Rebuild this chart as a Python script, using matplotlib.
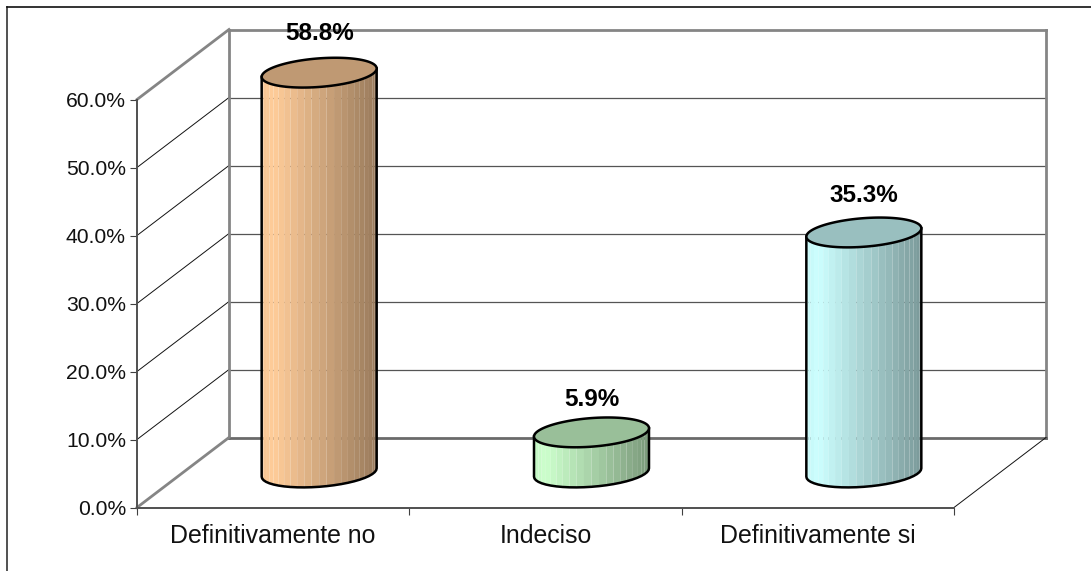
import numpy as np
import matplotlib
matplotlib.use("Agg")
import matplotlib.pyplot as plt
from matplotlib.lines import Line2D
from matplotlib.patches import Polygon
from matplotlib.colors import to_rgb
from matplotlib.ticker import FuncFormatter

plt.rcParams['font.family'] = ['Liberation Sans', 'DejaVu Sans']

categories = ["Definitivamente no", "Indeciso", "Definitivamente si"]
values = [58.8, 5.9, 35.3]
value_labels = ["58.8%", "5.9%", "35.3%"]
colors = ["#FFCC99", "#CCFFCC", "#CCFFFF"]
y_ticks = [0, 10, 20, 30, 40, 50, 60]

W, H = 1091, 571
L, R, T, B = 137.0, 954.0, 99.5, 507.5   # front plane, pixels
DX, DY = 92.0, 70.0                      # depth offset, pixels
fig = plt.figure(figsize=(W / 100, H / 100), dpi=100, facecolor="white")
# outer frame: only its left and top edges fall inside the picture
fig.add_artist(Line2D([6.5 / W, 6.5 / W], [0, 1 - 7 / H], transform=fig.transFigure,
                      color="#333333", lw=1.2, solid_capstyle="projecting"))
fig.add_artist(Line2D([6.5 / W, 1], [1 - 7 / H, 1 - 7 / H], transform=fig.transFigure,
                      color="#111111", lw=1.2, solid_capstyle="projecting"))
ax = fig.add_axes([L / W, 1 - B / H, (R - L) / W, (B - T) / H])
ax.set_xlim(0, 3)
ax.set_ylim(0, 60)
ax.patch.set_visible(False)

px = 3 / (R - L)
py = 60 / (B - T)
dx, dy = DX * px, DY * py

GRID = "#555555"
WALL = "#858585"
# walls
for v in y_ticks[1:-1]:
    ax.plot([dx, 3 + dx], [v + dy, v + dy], color=GRID, lw=0.9, clip_on=False, zorder=1)
    ax.plot([0, dx], [v, v + dy], color="#111111", lw=0.7, clip_on=False, zorder=1)
ax.plot([dx, 3 + dx], [60 + dy, 60 + dy], color=WALL, lw=2.0, clip_on=False, zorder=1)
ax.plot([dx, dx], [dy, 60 + dy], color=WALL, lw=2.0, clip_on=False, zorder=1)
ax.plot([3 + dx, 3 + dx], [dy, 60 + dy], color=WALL, lw=2.0, clip_on=False, zorder=1)
ax.plot([dx, 3 + dx], [dy, dy], color="#6a6a6a", lw=2.0, clip_on=False, zorder=1)
ax.plot([0, dx], [0, dy], color=WALL, lw=2.0, clip_on=False, zorder=1)
ax.plot([0, dx], [60, 60 + dy], color=WALL, lw=2.0, clip_on=False, zorder=1)
ax.plot([3, 3 + dx], [0, dy], color="#111111", lw=0.7, clip_on=False, zorder=1)

# cylinders
A, TILT, BB = 57.5, 4.2, 14.3
label_gap = [39.5, 33, 36.5]
def shade(u):
    return np.interp(u, [0, 0.1, 1], [0.96, 1.0, 0.6])
for i, (v, c) in enumerate(zip(values, colors)):
    cx = i + 0.5 + dx / 2
    base = dy / 2
    rgb = np.array(to_rgb(c))
    t = np.linspace(np.pi, 2 * np.pi, 25)
    xs = cx + A * px * np.cos(t)
    ys = (TILT * np.cos(t) + BB * np.sin(t)) * py
    for j in range(len(t) - 1):
        u = (xs[j] + xs[j + 1] - 2 * xs[0]) / 2 / (xs[-1] - xs[0])
        col = rgb * shade(u)
        ax.add_patch(Polygon([(xs[j], base + ys[j]), (xs[j + 1], base + ys[j + 1]),
                              (xs[j + 1], base + v + ys[j + 1]), (xs[j], base + v + ys[j])],
                             closed=True, fc=col, ec="none", lw=0, clip_on=False, zorder=3))
    ax.plot(np.r_[xs[0], xs, xs[-1]], np.r_[base + v + ys[0], base + ys, base + v + ys[-1]],
            color="black", lw=1.8, clip_on=False, zorder=4, solid_joinstyle="round")
    tt = np.linspace(0, 2 * np.pi, 121)
    ax.add_patch(Polygon(np.c_[cx + A * px * np.cos(tt),
                               base + v + (TILT * np.cos(tt) + BB * np.sin(tt)) * py],
                         closed=True, fc=rgb * 0.75, ec="black", lw=1.8, clip_on=False, zorder=5))
    ax.text(cx, base + v + label_gap[i] * py, value_labels[i], ha="center", va="center",
            fontsize=17.5, fontweight="bold", color="black", clip_on=False, zorder=6)

# axes
for s in ("top", "right"):
    ax.spines[s].set_visible(False)
for s in ("left", "bottom"):
    ax.spines[s].set_color("#505050")
    ax.spines[s].set_linewidth(1.4)
    ax.spines[s].set_zorder(2)
ax.set_yticks(y_ticks)
ax.yaxis.set_major_formatter(FuncFormatter(lambda v, _: f"{v:.1f}%"))
ax.tick_params(axis="y", length=5, width=0.8, color="#404040", labelsize=15.2, pad=3, labelcolor="#111111")
ax.set_xticks([0, 1, 2, 3])
ax.set_xticklabels([])
ax.set_xticks([0.5, 1.5, 2.5], minor=True)
ax.set_xticklabels(categories, minor=True)
ax.tick_params(axis="x", which="major", length=5, width=0.8, color="#404040")
ax.tick_params(axis="x", which="minor", length=0, labelsize=17.9, pad=12, labelcolor="#111111")

fig.savefig("out.png", dpi=100, facecolor="white")
